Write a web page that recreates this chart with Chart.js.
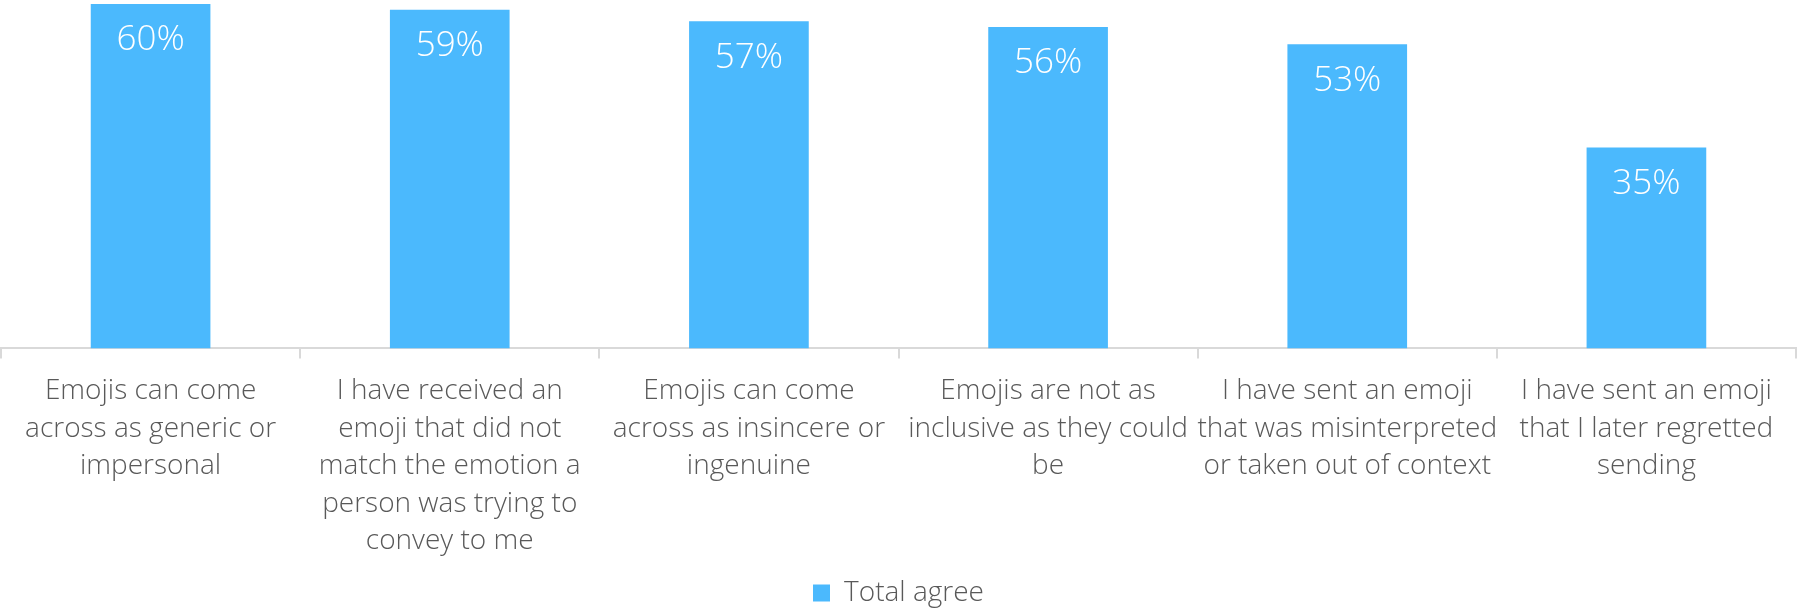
<!DOCTYPE html>
<html>
<head>
<meta charset="utf-8">
<script src="https://cdn.jsdelivr.net/npm/chart.js@4"></script>
<style>
    html, body { margin: 0; padding: 0; background: #ffffff; }
    #wrap { width: 1797px; height: 610px; position: relative; }
</style>
</head>
<body>
<div id="wrap"><canvas id="chart"></canvas></div>
<script>
// Chart data
const categories = [
    ['Emojis can come', 'across as generic or', 'impersonal'],
    ['I have received an', 'emoji that did not', 'match the emotion a', 'person was trying to', 'convey to me'],
    ['Emojis can come', 'across as insincere or', 'ingenuine'],
    ['Emojis are not as', 'inclusive as they could', 'be'],
    ['I have sent an emoji', 'that was misinterpreted', 'or taken out of context'],
    ['I have sent an emoji', 'that I later regretted', 'sending']
];
const totalAgree = [60, 59, 57, 56, 53, 35];
const seriesName = 'Total agree';

const barColor = '#4bb9fd';
const textColor = '#595959';
const fontFamily = '"Open Sans", "Noto Sans", sans-serif';

// Draws the value labels inside the top of each bar
const valueLabels = {
    id: 'valueLabels',
    afterDatasetsDraw(chart) {
        const ctx = chart.ctx;
        const meta = chart.getDatasetMeta(0);
        ctx.save();
        ctx.fillStyle = '#ffffff';
        ctx.font = '300 35px ' + fontFamily;
        ctx.textAlign = 'center';
        ctx.textBaseline = 'top';
        meta.data.forEach((bar, i) => {
            ctx.fillText(totalAgree[i] + '%', bar.x, bar.y + 19);
        });
        ctx.restore();
    }
};

document.addEventListener('DOMContentLoaded', function() {
    new Chart(document.getElementById('chart').getContext('2d'), {
        type: 'bar',
        data: {
            labels: categories,
            datasets: [{
                label: seriesName,
                data: totalAgree,
                backgroundColor: barColor,
                borderWidth: 0,
                categoryPercentage: 1,
                barPercentage: 0.4
            }]
        },
        options: {
            responsive: true,
            maintainAspectRatio: false,
            animation: false,
            layout: { padding: { top: 4, left: 1, right: 1, bottom: -7 } },
            scales: {
                x: {
                    offset: true,
                    border: { display: true, color: '#d9d9d9', width: 2 },
                    grid: {
                        offset: true,
                        drawOnChartArea: false,
                        drawTicks: true,
                        tickLength: 10,
                        color: '#d9d9d9',
                        lineWidth: 2
                    },
                    ticks: {
                        color: textColor,
                        font: { family: fontFamily, size: 28, weight: '300', lineHeight: 1.34 },
                        padding: 14,
                        maxRotation: 0,
                        autoSkip: false
                    }
                },
                y: {
                    display: false,
                    min: 0,
                    max: 60
                }
            },
            plugins: {
                legend: {
                    position: 'bottom',
                    labels: {
                        color: textColor,
                        boxWidth: 17,
                        boxHeight: 17,
                        padding: 5,
                        font: { family: fontFamily, size: 28, weight: '300' }
                    }
                },
                tooltip: { enabled: false }
            }
        },
        plugins: [valueLabels]
    });
});
</script>
</body>
</html>
